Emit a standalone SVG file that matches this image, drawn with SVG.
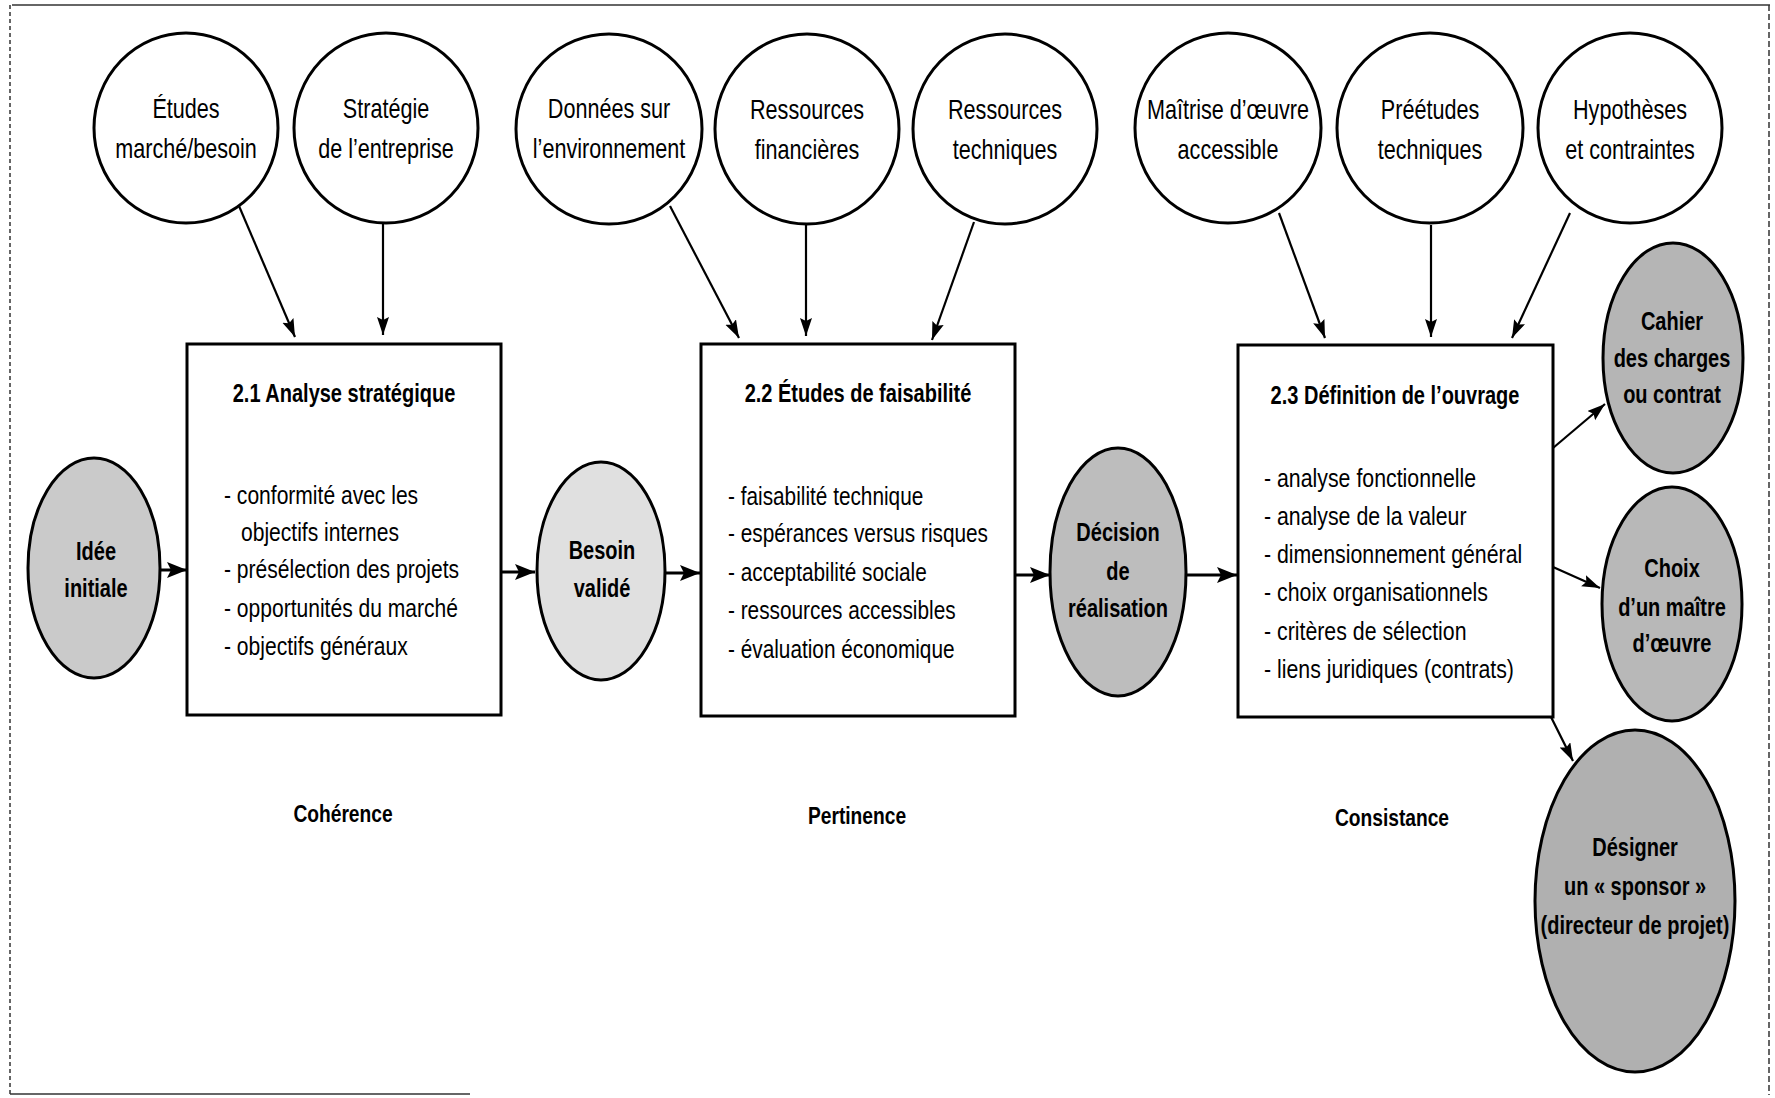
<svg xmlns="http://www.w3.org/2000/svg" width="1775" height="1098" viewBox="0 0 1775 1098">
<defs>
<style>
text{font-family:"Liberation Sans",Arial,sans-serif;fill:#000}
.ct{font-size:27px;text-anchor:middle}
.bt{font-size:26px}
.ti{font-size:25px;font-weight:bold;text-anchor:middle}
.st{font-size:25px;font-weight:bold;text-anchor:middle}
.lb{font-size:24px;font-weight:bold;text-anchor:middle}
.circ{fill:#fff;stroke:#000;stroke-width:3}
.box{fill:#fff;stroke:#000;stroke-width:3}
.sh{stroke:#000;stroke-width:3}
.ar{stroke:#000;stroke-width:2.2;fill:none;marker-end:url(#ah)}
.arh{stroke:#000;stroke-width:3;fill:none;marker-end:url(#ah2)}
.frame{stroke:#333;stroke-width:1.5;fill:none}
</style>
<marker id="ah" markerUnits="userSpaceOnUse" markerWidth="20" markerHeight="14" refX="18" refY="6" orient="auto">
<path d="M0,0 L18,6 L0,12 L3,6 z" fill="#000"/>
</marker>
<marker id="ah2" markerUnits="userSpaceOnUse" markerWidth="22" markerHeight="18" refX="20" refY="8" orient="auto">
<path d="M0,0 L20,8 L0,16 L4,8 z" fill="#000"/>
</marker>
</defs>
<rect width="1775" height="1098" fill="#fff"/>
<g id="frame">
<line class="frame" x1="12" y1="5" x2="1770" y2="5"/>
<line class="frame" x1="10" y1="5" x2="10" y2="1095" stroke-dasharray="4 3"/>
<line class="frame" x1="1769" y1="5" x2="1769" y2="1095" stroke-dasharray="6 3"/>
<line class="frame" x1="10" y1="1094" x2="470" y2="1094"/>
</g>
<g id="connectors">
<line class="ar" x1="239" y1="206" x2="295" y2="337"/>
<line class="ar" x1="383" y1="223" x2="383" y2="335"/>
<line class="ar" x1="670" y1="206" x2="739" y2="338"/>
<line class="ar" x1="806" y1="225" x2="806" y2="336"/>
<line class="ar" x1="974" y1="222" x2="932" y2="340"/>
<line class="ar" x1="1279" y1="213" x2="1325" y2="338"/>
<line class="ar" x1="1431" y1="225" x2="1431" y2="337"/>
<line class="ar" x1="1570" y1="213" x2="1512" y2="338"/>
<line class="arh" x1="160" y1="570" x2="187" y2="570"/>
<line class="arh" x1="501" y1="572" x2="535" y2="572"/>
<line class="arh" x1="666" y1="573" x2="700" y2="573"/>
<line class="arh" x1="1015" y1="575" x2="1050" y2="575"/>
<line class="arh" x1="1187" y1="575" x2="1237" y2="575" stroke-width="4.5"/>
<line class="ar" x1="1553" y1="448" x2="1605" y2="404" stroke-width="2.8"/>
<line class="ar" x1="1553" y1="567" x2="1600" y2="588" stroke-width="2.8"/>
<line class="ar" x1="1551" y1="717" x2="1573" y2="761" stroke-width="2.5"/>
</g>
<g id="n-etudes"><ellipse class="circ" cx="186" cy="128" rx="92" ry="95"/><g transform="translate(186,0) scale(0.8,1)"><text class="ct" x="0" y="118">Études</text><text class="ct" x="0" y="158">marché/besoin</text></g></g>
<g id="n-strategie"><ellipse class="circ" cx="386" cy="128" rx="92" ry="95"/><g transform="translate(386,0) scale(0.8,1)"><text class="ct" x="0" y="118">Stratégie</text><text class="ct" x="0" y="158">de l’entreprise</text></g></g>
<g id="n-donnees"><ellipse class="circ" cx="609" cy="129" rx="93" ry="95"/><g transform="translate(609,0) scale(0.8,1)"><text class="ct" x="0" y="118">Données sur</text><text class="ct" x="0" y="158">l’environnement</text></g></g>
<g id="n-resfin"><ellipse class="circ" cx="807" cy="129" rx="92" ry="95"/><g transform="translate(807,0) scale(0.8,1)"><text class="ct" x="0" y="119">Ressources</text><text class="ct" x="0" y="159">financières</text></g></g>
<g id="n-restech"><ellipse class="circ" cx="1005" cy="129" rx="92" ry="95"/><g transform="translate(1005,0) scale(0.8,1)"><text class="ct" x="0" y="119">Ressources</text><text class="ct" x="0" y="159">techniques</text></g></g>
<g id="n-maitrise"><ellipse class="circ" cx="1228" cy="128" rx="93" ry="95"/><g transform="translate(1228,0) scale(0.8,1)"><text class="ct" x="0" y="119">Maîtrise d’œuvre</text><text class="ct" x="0" y="159">accessible</text></g></g>
<g id="n-preetudes"><ellipse class="circ" cx="1430" cy="128" rx="93" ry="95"/><g transform="translate(1430,0) scale(0.8,1)"><text class="ct" x="0" y="119">Préétudes</text><text class="ct" x="0" y="159">techniques</text></g></g>
<g id="n-hypotheses"><ellipse class="circ" cx="1630" cy="128" rx="92" ry="95"/><g transform="translate(1630,0) scale(0.8,1)"><text class="ct" x="0" y="119">Hypothèses</text><text class="ct" x="0" y="159">et contraintes</text></g></g>
<g id="b-21"><rect class="box" x="187" y="344" width="314" height="371"/>
<g transform="translate(344,0) scale(0.8,1)"><text class="ti" x="0" y="402">2.1 Analyse stratégique</text></g>
<g transform="translate(224,0) scale(0.81,1)">
<text class="bt" x="0" y="504">- conformité avec les</text>
<text class="bt" x="21" y="541">objectifs internes</text>
<text class="bt" x="0" y="578">- présélection des projets</text>
<text class="bt" x="0" y="617">- opportunités du marché</text>
<text class="bt" x="0" y="655">- objectifs généraux</text>
</g></g>
<g id="b-22"><rect class="box" x="701" y="344" width="314" height="372"/>
<g transform="translate(858,0) scale(0.8,1)"><text class="ti" x="0" y="402">2.2 Études de faisabilité</text></g>
<g transform="translate(728,0) scale(0.8,1)">
<text class="bt" x="0" y="505">- faisabilité technique</text>
<text class="bt" x="0" y="542">- espérances versus risques</text>
<text class="bt" x="0" y="581">- acceptabilité sociale</text>
<text class="bt" x="0" y="619">- ressources accessibles</text>
<text class="bt" x="0" y="658">- évaluation économique</text>
</g></g>
<g id="b-23"><rect class="box" x="1238" y="345" width="315" height="372"/>
<g transform="translate(1395,0) scale(0.8,1)"><text class="ti" x="0" y="404">2.3 Définition de l’ouvrage</text></g>
<g transform="translate(1264,0) scale(0.82,1)">
<text class="bt" x="0" y="487">- analyse fonctionnelle</text>
<text class="bt" x="0" y="525">- analyse de la valeur</text>
<text class="bt" x="0" y="563">- dimensionnement général</text>
<text class="bt" x="0" y="601">- choix organisationnels</text>
<text class="bt" x="0" y="640">- critères de sélection</text>
<text class="bt" x="0" y="678">- liens juridiques (contrats)</text>
</g></g>
<g id="e-idee"><ellipse class="sh" fill="#cacaca" cx="94" cy="568" rx="66" ry="110"/><g transform="translate(96,0) scale(0.8,1)"><text class="st" x="0" y="560">Idée</text><text class="st" x="0" y="597">initiale</text></g></g>
<g id="e-besoin"><ellipse class="sh" fill="#e0e0e0" cx="601" cy="571" rx="64" ry="109"/><g transform="translate(602,0) scale(0.8,1)"><text class="st" x="0" y="559">Besoin</text><text class="st" x="0" y="597">validé</text></g></g>
<g id="e-decision"><ellipse class="sh" fill="#bdbdbd" cx="1118" cy="572" rx="68" ry="124"/><g transform="translate(1118,0) scale(0.8,1)"><text class="st" x="0" y="541">Décision</text><text class="st" x="0" y="580">de</text><text class="st" x="0" y="617">réalisation</text></g></g>
<g id="e-cahier"><ellipse class="sh" fill="#b5b5b5" cx="1673" cy="358" rx="70" ry="115"/><g transform="translate(1672,0) scale(0.8,1)"><text class="st" x="0" y="330">Cahier</text><text class="st" x="0" y="367">des charges</text><text class="st" x="0" y="403">ou contrat</text></g></g>
<g id="e-choix"><ellipse class="sh" fill="#b8b8b8" cx="1672" cy="604" rx="70" ry="117"/><g transform="translate(1672,0) scale(0.8,1)"><text class="st" x="0" y="577">Choix</text><text class="st" x="0" y="616">d’un maître</text><text class="st" x="0" y="652">d’œuvre</text></g></g>
<g id="e-designer"><ellipse class="sh" fill="#b0b0b0" cx="1635" cy="901" rx="100" ry="171"/><g transform="translate(1635,0) scale(0.8,1)"><text class="st" x="0" y="856">Désigner</text><text class="st" x="0" y="895">un « sponsor »</text><text class="st" x="0" y="934">(directeur de projet)</text></g></g>
<g id="labels">
<g transform="translate(343,0) scale(0.8,1)"><text class="lb" x="0" y="822">Cohérence</text></g>
<g transform="translate(857,0) scale(0.8,1)"><text class="lb" x="0" y="824">Pertinence</text></g>
<g transform="translate(1392,0) scale(0.8,1)"><text class="lb" x="0" y="826">Consistance</text></g>
</g>
</svg>
